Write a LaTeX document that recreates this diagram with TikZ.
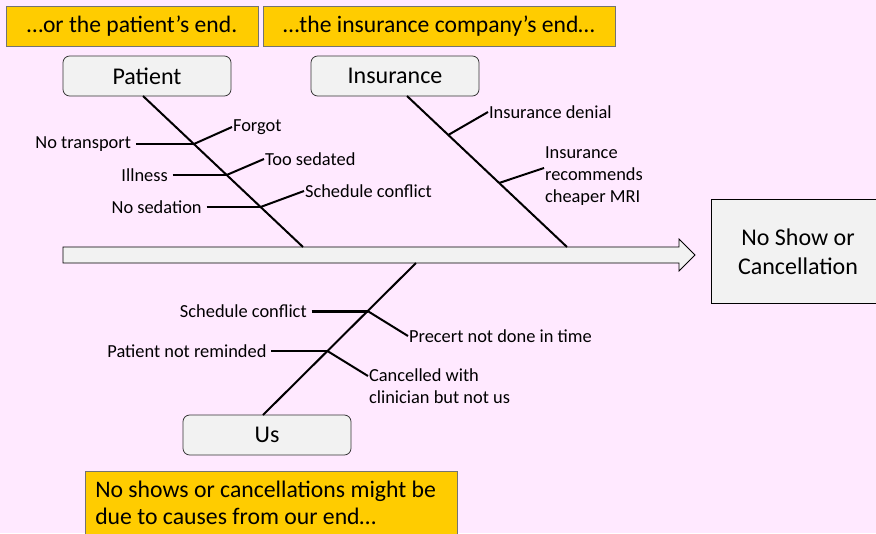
\documentclass[tikz,border=0pt]{standalone}
\usepackage{fontspec}
\setmainfont{Carlito}
\usetikzlibrary{calc}
\definecolor{bgpink}{HTML}{FFE9FF}
\definecolor{noteyellow}{HTML}{FFCC00}
\definecolor{boxgray}{HTML}{F2F2F2}
\tikzset{
    catbox/.style={draw=black!80, fill=boxgray, rounded corners=5pt, line width=0.6pt,
        minimum width=126pt, minimum height=30pt, inner sep=0pt, font=\fontsize{18}{21}\selectfont},
    notebox/.style={draw=black!55, fill=noteyellow, line width=0.6pt,
        minimum height=30pt, inner sep=0pt, font=\fontsize{17.7}{21}\selectfont},
    bone/.style={line width=1.5pt},
    hbone/.style={line width=2.2pt},
    dbone/.style={line width=1.5pt},
    lbl/.style={font=\fontsize{13.8}{16.5}\selectfont, inner sep=0.6pt, align=left},
    lbll/.style={lbl, anchor=east, inner sep=3.5pt}
}
\begin{document}
\begin{tikzpicture}[x=0.75pt,y=-0.75pt]
                \fill[bgpink] (0,0) rectangle (876,533);
                \useasboundingbox (0,0) rectangle (876,533);
                \node[notebox, minimum width=189pt] (noteP) at (132,26) {…or the patient’s end.};
                \node[notebox, minimum width=264pt] (noteI) at (439,26) {…the insurance company’s end…};
                \node[catbox] (patient) at (147,76) {Patient};
                \node[catbox] (insurance) at (395,76) {Insurance};
                \node[catbox] (us) at (267,435) {Us};
                \filldraw[fill=boxgray, draw=black, line width=0.6pt]
                    (63,247) -- (679,247) -- (679,239) -- (695,255) -- (679,271) -- (679,263) -- (63,263) -- cycle;
                \filldraw[fill=boxgray, draw=black, line width=0.6pt] (711,199) rectangle (880,303);
                \node[font=\fontsize{18}{21.75}\selectfont, align=center] (effect) at (798,252) {No Show or\\Cancellation};
                \filldraw[fill=noteyellow, draw=black!55, line width=0.6pt] (85,471) rectangle (457,545);
                \node[font=\fontsize{17.8}{20.25}\selectfont, align=left, anchor=north west, inner sep=0pt] (noteUs) at (95,481)
                    {No shows or cancellations might be\\due to causes from our end…};
                \coordinate (ptop) at (143,96);
                \coordinate (pbot) at (303,247);
                \coordinate (itop) at (407,96);
                \coordinate (ibot) at (567,247);
                \coordinate (utop) at (416,263);
                \coordinate (ubot) at (263,415);
                \draw[bone] (ptop) -- (pbot);
                \draw[bone] (itop) -- (ibot);
                \draw[bone] (utop) -- (ubot);
                \coordinate (p1) at ($(ptop)!0.318!(pbot)$);
                \coordinate (p2) at ($(ptop)!0.523!(pbot)$);
                \coordinate (p3) at ($(ptop)!0.735!(pbot)$);
                \coordinate (i1) at ($(itop)!0.258!(ibot)$);
                \coordinate (i2) at ($(itop)!0.576!(ibot)$);
                \coordinate (u1) at ($(utop)!0.316!(ubot)$);
                \coordinate (u2) at ($(utop)!0.579!(ubot)$);
                \node[lbll] (transport) at ($(p1)+(-58,0)$) {No transport};
                \node[lbll] (illness) at ($(p2)+(-54,0)$) {Illness};
                \node[lbll] (nosed) at ($(p3)+(-54,0)$) {No sedation};
                \node[lbl, anchor=west] (forgot) at (232,127) {Forgot};
                \node[lbl, anchor=west] (toosed) at (264,159) {Too sedated};
                \node[lbl, anchor=west] (pconf) at (304,191) {Schedule conflict};
                \draw[hbone] (transport.east) -- (p1);
                \draw[hbone] (illness.east) -- (p2);
                \draw[hbone] (nosed.east) -- (p3);
                \draw[dbone] (p1) -- (forgot.west);
                \draw[dbone] (p2) -- (toosed.west);
                \draw[dbone] (p3) -- (pconf.west);
                \node[lbl, anchor=west] (denial) at (488,112) {Insurance denial};
                \node[lbl, anchor=west] (cheaper) at (544,176) {Insurance\\recommends\\cheaper MRI};
                \draw[dbone] (i1) -- (denial.west);
                \draw[dbone] (i2) -- ($(cheaper.west)+(0,-8)$);
                \node[lbl, anchor=west] (precert) at (408,336) {Precert not done in time};
                \node[lbl, anchor=north west] (cancel) at (368,368) {Cancelled with\\clinician but not us};
                \node[lbll] (uconf) at ($(u1)+(-56,0)$) {Schedule conflict};
                \node[lbll] (remind) at ($(u2)+(-56,0)$) {Patient not reminded};
                \draw[hbone] (uconf.east) -- (u1);
                \draw[hbone] (remind.east) -- (u2);
                \draw[dbone] (u1) -- (precert.west);
                \draw[dbone] (u2) -- ($(cancel.north west)+(0,8)$);
\end{tikzpicture}
\end{document}
